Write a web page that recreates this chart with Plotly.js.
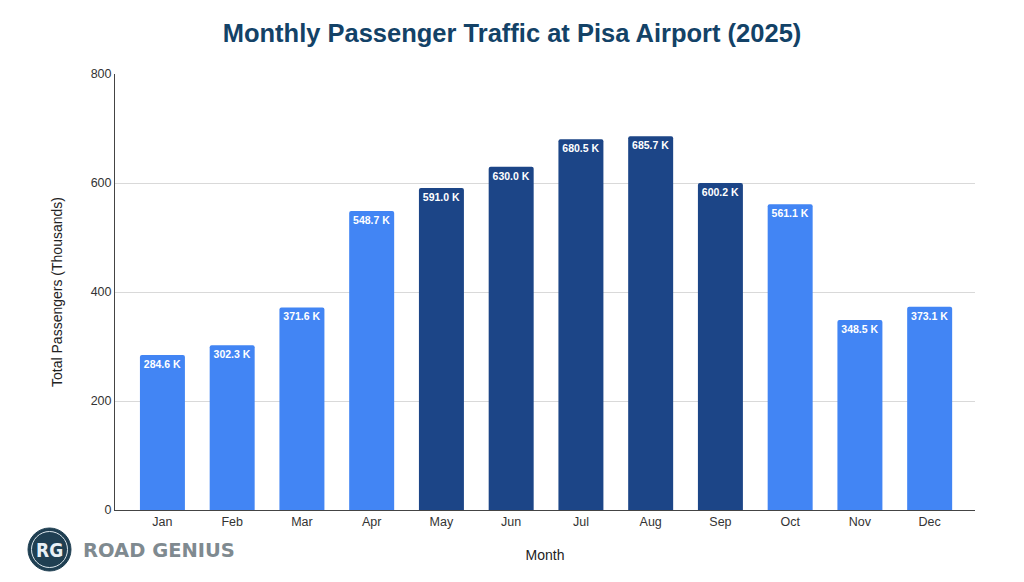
<!DOCTYPE html>
<html>
<head>
<meta charset="utf-8">
<script src="https://cdn.plot.ly/plotly-3.0.1.min.js"></script>
<style>html,body{margin:0;padding:0;background:#fff}#chart{width:1024px;height:582px}</style>
</head>
<body>
<div id="chart"></div>
<script>
const months = ["Jan","Feb","Mar","Apr","May","Jun","Jul","Aug","Sep","Oct","Nov","Dec"];
const passengers = [284.6,302.3,371.6,548.7,591.0,630.0,680.5,685.7,600.2,561.1,348.5,373.1];
const peakMonths = ["May","Jun","Jul","Aug","Sep"];
const lightBlue = "#4285F4";
const darkBlue = "#1C4587";
const yTicks = [0,200,400,600,800];
const W = 1024, H = 582;
const font = "Liberation Sans, Arial, sans-serif";

Plotly.newPlot("chart", [{
  type: "bar",
  x: months,
  y: passengers,
  width: 0.645,
  marker: {color: months.map(m => peakMonths.includes(m) ? darkBlue : lightBlue), line: {width: 0}},
  texttemplate: "%{y:.1f} K",
  textposition: "inside",
  insidetextanchor: "end",
  textangle: 0,
  constraintext: "none",
  insidetextfont: {family: font, size: 10.5, color: "#FFFFFF", weight: 700},
  hoverinfo: "x+y",
  cliponaxis: false
}], {
  width: W, height: H,
  paper_bgcolor: "#fff", plot_bgcolor: "#fff",
  showlegend: false,
  barcornerradius: 2,
  margin: {l: 115, r: 49, t: 74, b: 72, pad: 0},
  title: {text: "<b>Monthly Passenger Traffic at Pisa Airport (2025)</b>",
          font: {family: font, size: 25.5, color: "#134267"},
          x: 0.5, xanchor: "center", y: 1 - 33/H, yanchor: "middle"},
  xaxis: {
    type: "category", range: [-0.68, 11.65],
    showgrid: false, ticks: "", showline: true, linecolor: "#444", linewidth: 1,
    tickfont: {family: font, size: 12.5, color: "#333"},
    title: {text: "Month", font: {family: font, size: 14, color: "#222"}, standoff: 22}
  },
  yaxis: {
    range: [0, 800], tickvals: yTicks, ticktext: yTicks.map(String),
    showgrid: true, gridcolor: "#D9D9D9", gridwidth: 1, zeroline: false,
    showline: true, linecolor: "#444", linewidth: 1, ticks: "",
    tickfont: {family: font, size: 12.5, color: "#333"},
    title: {text: "Total Passengers (Thousands)", font: {family: font, size: 14, color: "#222"}, standoff: 24}
  },
  shapes: [
    {type: "circle", xref: "paper", yref: "paper", layer: "above",
     x0: (28-115)/860, x1: (71-115)/860,
     y0: (510-571)/436 + 0, y1: (510-528)/436,
     fillcolor: "#1F3F52", line: {color: "#1F3F52", width: 1}},
    {type: "circle", xref: "paper", yref: "paper", layer: "above",
     x0: (31.5-115)/860, x1: (67.5-115)/860,
     y0: (510-567.5)/436, y1: (510-531.5)/436,
     fillcolor: "rgba(0,0,0,0)", line: {color: "#DCE6EC", width: 1}}
  ],
  annotations: [
    {text: "<b>RG</b>", xref: "paper", yref: "paper", x: (49.5-115)/860, y: (510-550)/436,
     xanchor: "center", yanchor: "middle", showarrow: false,
     font: {family: "DejaVu Sans Condensed, Liberation Sans Narrow, sans-serif", size: 19, color: "#E8F0F5"}},
    {text: "<b>ROAD GENIUS</b>", xref: "paper", yref: "paper", x: (81-115)/860, y: (510-550)/436,
     xanchor: "left", yanchor: "middle", showarrow: false,
     font: {family: "DejaVu Sans, sans-serif", size: 19.5, color: "#7F8A90"}}
  ]
}, {displayModeBar: false, responsive: false});
</script>
</body>
</html>
